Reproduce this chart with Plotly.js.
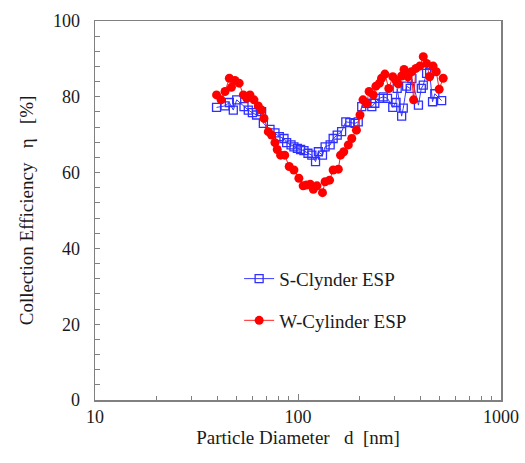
<!DOCTYPE html>
<html>
<head>
<meta charset="utf-8">
<script src="https://cdn.plot.ly/plotly-3.0.1.min.js"></script>
<style>body{margin:0;padding:0;background:#fff}#chart{width:525px;height:463px}</style>
</head>
<body>
<div id="chart"></div>
<script>
// S-Clynder ESP (blue open squares)
const sDiameter = [39.7, 43.7, 45.9, 48.0, 49.9, 54.2, 56.9, 59.6, 62.5, 66.2, 67.5, 72.8, 77.0, 80.9, 85.3, 87.9, 92.4, 95.5, 99.3, 103, 107, 112, 117, 122, 126, 132, 136, 144, 149, 156, 164, 172, 180, 191, 198, 206, 218, 231, 239, 252, 263, 276, 293, 304, 308, 324, 330, 343, 357, 364, 392, 405, 414, 430, 445, 460, 472, 510];
const sEff = [77.2, 77.6, 78.5, 76.5, 79.2, 77.4, 76.5, 75.8, 75.2, 76.1, 73.0, 71.4, 70.5, 69.5, 69.0, 67.9, 67.3, 66.8, 66.4, 66.1, 65.8, 65.1, 64.6, 62.9, 65.5, 64.6, 66.8, 67.3, 69.0, 69.9, 70.8, 73.4, 73.2, 73.0, 73.4, 77.4, 78.3, 77.4, 78.3, 79.6, 80.0, 79.6, 77.2, 78.5, 82.2, 74.9, 77.0, 82.8, 82.2, 84.8, 77.8, 82.2, 83.1, 86.2, 86.4, 78.7, 80.8, 79.0];
// W-Cylinder ESP (red filled circles)
const wDiameter = [39.7, 41.8, 43.7, 45.9, 47.0, 48.9, 51.3, 53.8, 55.9, 58.0, 60.7, 63.7, 66.2, 68.0, 71.4, 74.1, 77.0, 79.0, 82.1, 86.0, 90.5, 95.5, 101, 106, 110, 115, 119, 124, 132, 136, 143, 149, 158, 162, 168, 177, 184, 194, 202, 209, 218, 224, 235, 242, 252, 258, 268, 280, 293, 304, 312, 324, 333, 348, 362, 371, 381, 398, 414, 430, 445, 463, 480, 496, 519];
const wEff = [80.5, 79.2, 81.4, 84.9, 82.5, 84.3, 83.6, 80.5, 79.6, 80.5, 79.2, 77.6, 76.5, 74.3, 70.8, 69.9, 67.9, 66.1, 64.6, 64.6, 61.6, 60.7, 58.5, 56.5, 56.7, 56.9, 55.6, 56.5, 54.7, 57.6, 58.0, 60.7, 60.9, 64.6, 65.5, 67.3, 69.0, 71.2, 75.2, 79.2, 78.3, 81.4, 80.5, 82.8, 83.6, 84.9, 86.0, 82.2, 85.3, 84.3, 83.4, 85.5, 87.2, 85.3, 86.6, 79.2, 87.5, 88.1, 90.6, 88.8, 85.3, 88.1, 86.6, 82.0, 84.9];

const seriesNames = ['S-Clynder ESP', 'W-Cylinder ESP'];
const yTickVals = [0, 20, 40, 60, 80, 100];
const xTickVals = [10, 100, 1000];
const xTickText = ['10', '100', '1000'];
const xMinorTickVals = [20, 30, 40, 50, 60, 70, 80, 90, 200, 300, 400, 500, 600, 700, 800, 900];

const FONT = 'Liberation Serif, Times New Roman, serif';
const AX = '#808080';

const traces = [
  {
    x: sDiameter, y: sEff, name: seriesNames[0], type: 'scatter', mode: 'lines+markers',
    legendgroup: 'a',
    line: {color: '#3b3bff', width: 1},
    marker: {symbol: 'square-open', size: 8, color: '#2f2fff', line: {width: 1.3, color: '#2f2fff'}}
  },
  {
    x: wDiameter, y: wEff, name: seriesNames[1], type: 'scatter', mode: 'lines+markers',
    legendgroup: 'b',
    line: {color: '#ff2020', width: 1},
    marker: {symbol: 'circle', size: 9, color: '#ff0000'}
  }
];

const layout = {
  width: 525, height: 463,
  margin: {l: 95, r: 24, t: 21, b: 63},
  paper_bgcolor: '#fff', plot_bgcolor: '#fff',
  font: {family: FONT, size: 18, color: '#1a1a1a'},
  showlegend: true,
  legend: {
    x: 0.355, y: 0.37, xanchor: 'left', yanchor: 'top',
    bgcolor: 'rgba(0,0,0,0)', font: {family: FONT, size: 19, color: '#1a1a1a'},
    tracegroupgap: 14, traceorder: 'grouped'
  },
  xaxis: {
    type: 'log', range: [1, 3],
    tickmode: 'array', tickvals: xTickVals, ticktext: xTickText,
    ticks: 'inside', ticklen: 6, tickwidth: 1, tickcolor: AX,
    minor: {ticks: 'inside', ticklen: 4, tickwidth: 1, tickcolor: AX, tickmode: 'array', tickvals: xMinorTickVals, showgrid: false},
    showline: true, linecolor: AX, linewidth: 1.5, mirror: true,
    showgrid: false, zeroline: false,
    tickfont: {family: FONT, size: 18, color: '#1a1a1a'},
    ticklabelstandoff: 0,
    title: {text: 'Particle Diameter\u00a0\u00a0\u00a0d\u00a0\u00a0[nm]', font: {family: FONT, size: 19, color: '#1a1a1a'}, standoff: 2}
  },
  yaxis: {
    range: [0, 100], tickvals: yTickVals,
    ticks: 'inside', ticklen: 5, tickwidth: 1, tickcolor: AX,
    minor: {ticks: 'inside', ticklen: 5, tickwidth: 1, tickcolor: AX, dtick: 4, showgrid: false},
    showline: true, linecolor: AX, linewidth: 1.5, mirror: true,
    showgrid: false, zeroline: false,
    tickfont: {family: FONT, size: 18, color: '#1a1a1a'},
    ticklabelstandoff: 10,
    title: {text: 'Collection Efficiency\u00a0\u00a0\u00a0\u03b7\u00a0\u00a0\u00a0[%]', font: {family: FONT, size: 19, color: '#1a1a1a'}, standoff: 14}
  }
};

Plotly.newPlot('chart', traces, layout, {displayModeBar: false, staticPlot: true});
</script>
</body>
</html>
